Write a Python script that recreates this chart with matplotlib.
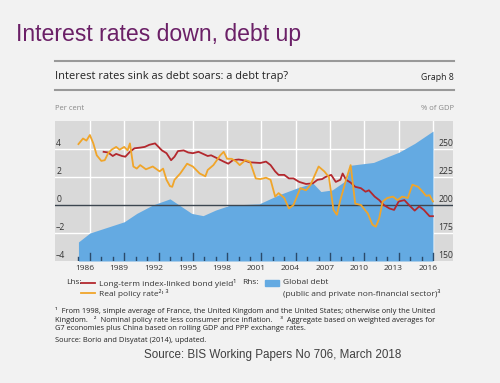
import numpy as np
import matplotlib.pyplot as plt

# global debt, % of GDP (rhs)
debt_years = [1985.0, 1986.0, 1989.0, 1990.1, 1991.5, 1993.0, 1994.9, 1995.9, 1997.0,
              1998.3, 1999.6, 2000.8, 2002.5, 2004.2, 2005.5, 2006.2, 2007.2, 2008.4,
              2008.8, 2010.8, 2012.0, 2013.0, 2014.4, 2016.0]
debt = [167, 175, 185, 192.5, 200, 205.5, 192.5, 190.5, 195.5,
        200, 200.5, 201, 209, 215.5, 219.5, 212, 213.5, 222,
        235.5, 238, 243, 247, 255, 266]

# real policy rate, per cent (lhs)
policy_years = [1985.0, 1985.4, 1985.7, 1986.0, 1986.3, 1986.6, 1987.0, 1987.3, 1987.6,
                1987.9, 1988.3, 1988.6, 1989.0, 1989.3, 1989.5, 1989.8, 1990.1, 1990.4,
                1990.9, 1991.5, 1992.1, 1992.4, 1992.7, 1993.0, 1993.2, 1993.4, 1993.9,
                1994.5, 1995.0, 1995.6, 1996.1, 1996.3, 1996.8, 1997.4, 1997.7, 1998.0,
                1998.4, 1998.8, 1999.1, 1999.6, 2000.0, 2000.5, 2000.9, 2001.4, 2001.8,
                2002.2, 2002.5, 2003.0, 2003.4, 2003.8, 2004.4, 2004.9, 2005.3, 2006.0,
                2006.5, 2006.9, 2007.3, 2007.6, 2007.9, 2008.4, 2008.8, 2009.2, 2009.7,
                2010.3, 2010.7, 2011.0, 2011.3, 2011.6, 2012.0, 2012.5, 2012.9, 2013.3,
                2013.8, 2014.2, 2014.7, 2015.1, 2015.4, 2015.7, 2016.0]
policy = [4.35, 4.75, 4.6, 5.0, 4.4, 3.55, 3.15, 3.2, 3.7,
          3.95, 4.15, 3.95, 4.15, 3.9, 4.4, 2.75, 2.6, 2.85,
          2.55, 2.75, 2.4, 2.6, 1.8, 1.35, 1.3, 1.8, 2.25,
          2.95, 2.75, 2.25, 2.05, 2.5, 2.85, 3.55, 3.8, 3.3,
          3.3, 3.1, 2.85, 3.2, 3.1, 1.9, 1.85, 1.95, 1.8,
          0.6, 0.85, 0.5, -0.25, 0.0, 1.2, 1.05, 1.45, 2.75,
          2.4, 2.0, -0.35, -0.7, 0.35, 1.8, 2.85, 0.1, 0.0,
          -0.6, -1.4, -1.55, -0.95, 0.25, 0.5, 0.6, 0.35, 0.6,
          0.5, 1.45, 1.3, 0.95, 0.65, 0.7, 0.25]

# long-term index-linked bond yield, per cent (lhs)
bond_years = [1987.2, 1987.6, 1988.0, 1988.3, 1988.8, 1989.1, 1989.5, 1989.9, 1990.4,
              1990.8, 1991.2, 1991.7, 1992.0, 1992.3, 1992.7, 1993.1, 1993.4, 1993.7,
              1994.2, 1994.6, 1995.0, 1995.5, 1995.9, 1996.3, 1996.6, 1997.1, 1997.7,
              1998.1, 1998.5, 1999.0, 1999.4, 2000.0, 2000.9, 2001.4, 2001.8, 2002.2,
              2002.5, 2003.0, 2003.4, 2003.8, 2004.3, 2004.9, 2005.5, 2005.9, 2006.3,
              2006.6, 2007.1, 2007.5, 2007.9, 2008.1, 2008.4, 2008.8, 2009.2, 2009.7,
              2010.1, 2010.4, 2010.9, 2011.3, 2011.7, 2012.2, 2012.6, 2013.0, 2013.5,
              2013.9, 2014.4, 2014.8, 2015.2, 2015.7, 2016.0]
bond = [3.8, 3.75, 3.5, 3.65, 3.5, 3.45, 3.8, 4.05, 4.1,
        4.15, 4.3, 4.4, 4.15, 3.9, 3.7, 3.2, 3.45, 3.85,
        3.9, 3.75, 3.7, 3.8, 3.65, 3.5, 3.55, 3.35, 3.1,
        2.95, 3.2, 3.25, 3.2, 3.05, 3.0, 3.1, 2.85, 2.4,
        2.15, 2.15, 1.9, 1.9, 1.65, 1.5, 1.55, 1.8, 1.85,
        2.0, 2.15, 1.65, 1.8, 2.25, 1.8, 1.6, 1.3, 1.2,
        0.95, 1.05, 0.6, 0.35, 0.0, -0.25, -0.35, 0.25, 0.35,
        0.0, -0.4, -0.1, -0.35, -0.8, -0.8]

year_labels = list(range(1986, 2017, 3))
lhs_ticks = [-4, -2, 0, 2, 4]
rhs_ticks = [150, 175, 200, 225, 250]

RED = '#b3282e'
ORANGE = '#f0a52a'
BLUE = '#64aae2'
BG = '#f2f2f2'
PANEL = '#d9d9d9'
FAM = ['Open Sans', 'DejaVu Sans']


def to_lhs(v):
    # rhs 200 sits on lhs 0, 25 pp of GDP per 2 per cent
    return (np.asarray(v, dtype=float) - 200) / 12.5


fig = plt.figure(figsize=(5, 3.83), dpi=100, facecolor=BG)
W, H = 500, 383


def ftext(x, y, s, **kw):
    fig.text(x / W, 1 - y / H, s, va='center', **kw)


ax = fig.add_axes([55 / W, 1 - 261 / H, 398 / W, 140 / H])
ax.set_facecolor(PANEL)
ax.set_xlim(1982.95, 2017.75)
ax.set_ylim(-4, 6)
for s in ax.spines.values():
    s.set_visible(False)
ax.set_xticks([])
ax.set_yticks([])

# white grid
for y in [-2, 2, 4]:
    ax.axhline(y, color='white', lw=1, zorder=1)
for x in year_labels:
    ax.axvline(x, color='white', lw=1, zorder=1)

ax.fill_between(debt_years, -4, to_lhs(debt), color=BLUE, lw=0, zorder=2)
ax.axhline(0, color='#3c4650', lw=1, zorder=3)
ax.plot(bond_years, bond, color=RED, lw=1.3, zorder=4)
ax.plot(policy_years, policy, color=ORANGE, lw=1.3, zorder=5)

# ticks inside the bottom edge
for yr in range(1985, 2017):
    h = 0.55 if yr in year_labels else 0.28
    ax.plot([yr, yr], [-4, -4 + h], color='#2b4a6a', lw=1, zorder=6)

for yr in year_labels:
    ax.text(yr - 0.45, -4.5, str(yr), ha='center', va='center', fontsize=6,
            color='#333333', family=FAM)
for t in lhs_ticks:
    lab = str(t).replace('-', '\u2013')
    ax.text(1983.05, t + 0.42, lab, ha='left', va='center', fontsize=6.2,
            color='#333333', family=FAM)
for t in rhs_ticks:
    ax.text(2016.45, to_lhs(t) + 0.42, str(t), ha='left', va='center', fontsize=6.2,
            color='#333333', family=FAM)

# headings
ftext(16, 35, 'Interest rates down, debt up', fontsize=16.6, color='#6b2067',
      family='Liberation Sans')
fig.add_artist(plt.Line2D([55 / W, 454 / W], [1 - 61 / H, 1 - 61 / H], color='#999999', lw=1.5))
fig.add_artist(plt.Line2D([55 / W, 454 / W], [1 - 90 / H, 1 - 90 / H], color='#999999', lw=1.5))
ftext(55, 76, 'Interest rates sink as debt soars: a debt trap?', fontsize=7.9,
      color='#222222', family=FAM)
ftext(454, 78, 'Graph 8', fontsize=6.3, color='#222222', family=FAM, ha='right')
ftext(55, 108, 'Per cent', fontsize=5.5, color='#888888', family=FAM)
ftext(454, 108, '% of GDP', fontsize=5.5, color='#888888', family=FAM, ha='right')

# legend
lf = dict(fontsize=6, color='#333333', family=FAM)
ftext(66, 283, 'Lhs:', **lf)
fig.add_artist(plt.Line2D([81 / W, 95 / W], [1 - 283 / H] * 2, color=RED, lw=1.3))
ftext(99, 283, 'Long-term index-linked bond yield\u00b9', **lf)
fig.add_artist(plt.Line2D([81 / W, 95 / W], [1 - 293 / H] * 2, color=ORANGE, lw=1.3))
ftext(99, 293, 'Real policy rate\u00b2\u02d2\u2009\u00b3', **lf)
ftext(242, 283, 'Rhs:', **lf)
fig.add_artist(plt.Rectangle((265 / W, 1 - 286 / H), 14 / W, 6 / H, color=BLUE))
ftext(283, 283, 'Global debt', **lf)
ftext(283, 293, '(public and private non-financial sector)\u00b3', **lf)

# footnotes
nf = dict(fontsize=5.4, color='#222222', family=FAM)
ftext(55, 311, '\u00b9  From 1998, simple average of France, the United Kingdom and the United States; '
      'otherwise only the United', **nf)
ftext(55, 320, 'Kingdom.   \u00b2  Nominal policy rate less consumer price inflation.    '
      '\u00b3  Aggregate based on weighted averages for', **nf)
ftext(55, 328, 'G7 economies plus China based on rolling GDP and PPP exchange rates.', **nf)
ftext(55, 341, 'Source: Borio and Disyatat (2014), updated.', **nf)
ftext(144, 355, 'Source: BIS Working Papers No 706, March 2018', fontsize=8.35,
      color='#404040', family='Liberation Sans')

fig.savefig('out.png', dpi=100, facecolor=BG)
